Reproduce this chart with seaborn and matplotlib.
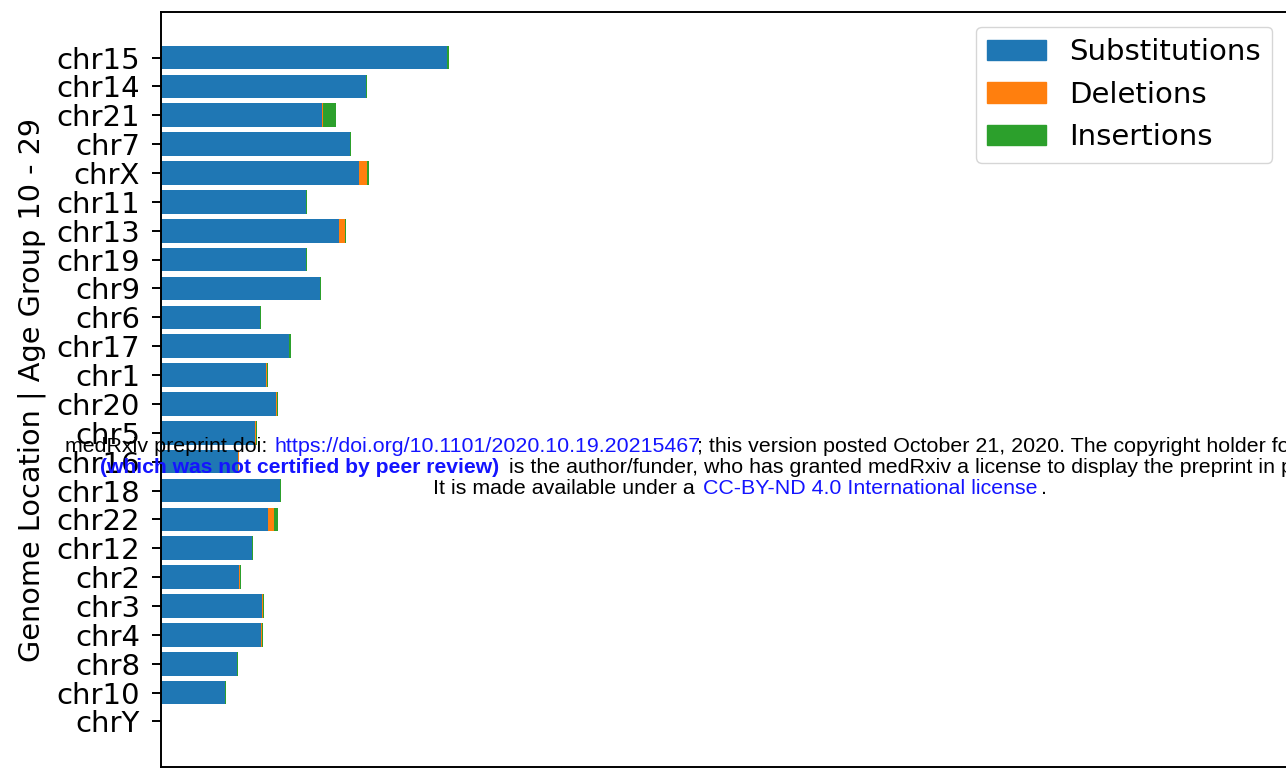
import numpy as np
import pandas as pd
import matplotlib
matplotlib.use("Agg")
import matplotlib.pyplot as plt
import seaborn as sns
from matplotlib.patches import Patch
from matplotlib.transforms import IdentityTransform

# mutation counts per chromosome, age group 10 - 29
chroms = ['chr15', 'chr14', 'chr21', 'chr7', 'chrX', 'chr11', 'chr13', 'chr19',
          'chr9', 'chr6', 'chr17', 'chr1', 'chr20', 'chr5', 'chr16', 'chr18',
          'chr22', 'chr12', 'chr2', 'chr3', 'chr4', 'chr8', 'chr10', 'chrY']
substitutions = [143, 102.5, 80.5, 94.5, 99, 72.5, 89, 72.5, 79.5, 49.5, 64, 52.5,
                 57.5, 47, 38.5, 59.5, 53.5, 45.5, 39, 50.5, 50, 38, 32, 0]
deletions = [0, 0, 0.5, 0, 4, 0, 3, 0, 0, 0, 0, 0.5, 0.5, 0.5, 0.5, 0, 3, 0,
             0.5, 0.5, 0.5, 0, 0, 0]
insertions = [1, 0.5, 6.5, 0.5, 1, 0.5, 0.5, 0.3, 0.5, 0.3, 1, 0.5, 0.5, 0.5,
              0, 0.5, 2, 0.5, 0.5, 0.5, 0.5, 0.5, 0.5, 0]

df = pd.DataFrame({'chrom': chroms, 'sub': substitutions,
                   'dele': deletions, 'ins': insertions})
df['sub_del'] = df['sub'] + df['dele']
df['total'] = df['sub_del'] + df['ins']

blue, orange, green = '#1f77b4', '#ff7f0e', '#2ca02c'

plt.rcParams['font.size'] = 21
plt.rcParams['axes.linewidth'] = 1.4

fig = plt.figure(figsize=(12.86, 7.68), dpi=100)
ax = fig.add_axes([161 / 1286, 1 / 768, 1126 / 1286, 755 / 768])

# stacked bars drawn as overlapping cumulative totals
sns.barplot(data=df, x='total', y='chrom', color=green, saturation=1,
            width=0.82, linewidth=0, orient='h', ax=ax)
sns.barplot(data=df, x='sub_del', y='chrom', color=orange, saturation=1,
            width=0.82, linewidth=0, orient='h', ax=ax)
sns.barplot(data=df, x='sub', y='chrom', color=blue, saturation=1,
            width=0.82, linewidth=0, orient='h', ax=ax)

ax.set_xlim(0, 563)
ax.set_ylim(24.58, -1.58)
ax.set_xlabel('')
ax.set_ylabel('Genome Location | Age Group 10 - 29', fontsize=20.7, labelpad=7.5)
ax.tick_params(axis='y', labelsize=21, length=6.5, width=1.4, pad=8.5)

handles = [Patch(color=blue), Patch(color=orange), Patch(color=green)]
ax.legend(handles, ['Substitutions', 'Deletions', 'Insertions'],
          loc='upper right', fontsize=21)

# medRxiv overlay text
link = '#1414ff'
fam = ['Liberation Sans', 'DejaVu Sans']
segments = [
    (65, 452, 'medRxiv preprint doi: ', 'black', 'normal', 15.4),
    (274, 452, 'https://doi.org/10.1101/2020.10.19.20215467', link, 'normal', 15.4),
    (697, 452, '; this version posted October 21, 2020. The copyright holder for this preprint', 'black', 'normal', 15.4),
    (100, 473, '(which was not certified by peer review)', link, 'bold', 15.2),
    (503, 473, ' is the author/funder, who has granted medRxiv a license to display the preprint in perpetuity.', 'black', 'normal', 15.4),
    (433, 494, 'It is made available under a ', 'black', 'normal', 15.4),
    (703, 494, 'CC-BY-ND 4.0 International license', link, 'normal', 15.4),
    (1035, 494, ' .', 'black', 'normal', 15.4),
]
for x, y, s, c, w, fs in segments:
    fig.text(x, 768 - y, s, color=c, fontsize=fs, fontweight=w, family=fam,
             transform=IdentityTransform(), va='baseline', ha='left')

fig.savefig('out.png', dpi=100)
